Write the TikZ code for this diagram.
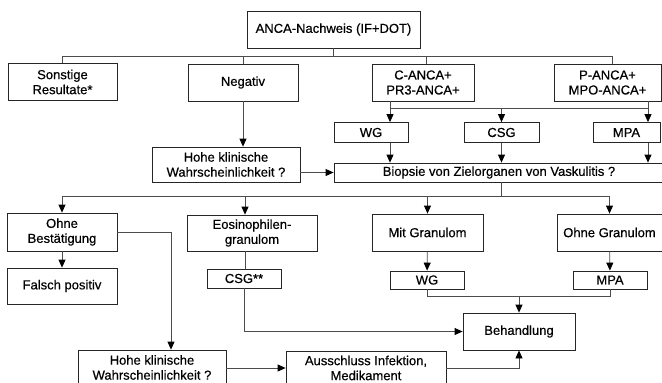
\documentclass[tikz,border=0pt]{standalone}
\usepackage{fontspec}
\setmainfont{Liberation Sans}[FakeBold=0.5]
\usetikzlibrary{arrows.meta,positioning,shapes}

\begin{document}
\begin{tikzpicture}[x=1pt,y=-1pt,
  box/.style={draw=black!85,line width=0.8pt,rectangle,inner sep=0pt,align=center,
    font=\fontsize{13}{15}\selectfont},
  line/.style={draw=black!70,line width=0.8pt},
  arr/.style={line,-{Triangle[length=8pt,width=7pt,color=black]}}]

  \clip (0,0) rectangle (662,383);

  % first row
  \node[box,minimum width=173,minimum height=37] (nachweis) at (333.5,29.5) {ANCA-Nachweis (IF+DOT)};
  \node[box,minimum width=109,minimum height=37] (sonst) at (62.5,82) {Sonstige\\Resultate*};
  \node[box,minimum width=110,minimum height=37] (neg) at (243,82.5) {Negativ};
  \node[box,minimum width=102,minimum height=37] (cplus) at (423,82.5) {C-ANCA+\\PR3-ANCA+};
  \node[box,minimum width=107,minimum height=37] (pplus) at (607.5,82.5) {P-ANCA+\\MPO-ANCA+};

  % diagnoses and biopsy
  \node[box,minimum width=74,minimum height=20] (wg1) at (371,132.5) {WG};
  \node[box,minimum width=75,minimum height=20] (csg1) at (501.5,132.5) {CSG};
  \node[box,minimum width=67,minimum height=20] (mpa1) at (626.5,132.5) {MPA};
  \node[box,minimum width=148,minimum height=35] (hohe1) at (226,164.5) {Hohe klinische\\Wahrscheinlichkeit ?};
  \node[box,minimum width=330,minimum height=19] (biopsie) at (499,172.5) {Biopsie von Zielorganen von Vaskulitis ?};

  % biopsy results
  \node[box,minimum width=110,minimum height=38] (ohnebest) at (62,232) {Ohne\\Bestätigung};
  \node[box,minimum width=130,minimum height=36] (eosino) at (252,233) {Eosinophilen-\\granulom};
  \node[box,minimum width=111,minimum height=37] (mitgran) at (427.5,232.5) {Mit Granulom};
  \node[box,minimum width=105,minimum height=37] (ohnegran) at (609.5,232.5) {Ohne Granulom};
  \node[box,minimum width=110,minimum height=36] (falsch) at (62,286) {Falsch positiv};
  \node[box,minimum width=74,minimum height=19] (csg2) at (244,278.5) {CSG**};
  \node[box,minimum width=74,minimum height=18] (wg2) at (427,280) {WG};
  \node[box,minimum width=74,minimum height=18] (mpa2) at (610,280) {MPA};

  % treatment
  \node[box,minimum width=112,minimum height=37] (behand) at (519,331.5) {Behandlung};
  \node[box,minimum width=148,minimum height=35] (hohe2) at (152,367.5) {Hohe klinische\\Wahrscheinlichkeit ?};
  \node[box,minimum width=160,minimum height=34] (ausschl) at (366,368) {Ausschluss Infektion,\\Medikament};

  % lanes for the connectors
  \coordinate (bus1) at (0,56);
  \coordinate (bus2) at (390,108);
  \coordinate (bus2r) at (648,108);
  \coordinate (bus3) at (0,196);
  \coordinate (leos) at (245,0);
  \coordinate (lbest) at (171,232);
  \coordinate (bus4) at (519,296);

  \draw[line] (nachweis.south) -- (nachweis.south |- bus1);
  \draw[line] (sonst.north) -- (sonst.north |- bus1) -- ([xshift=5]pplus.north |- bus1) -- ([xshift=5]pplus.north);
  \draw[line] (neg.north) -- (neg.north |- bus1);
  \draw[line] ([xshift=3]cplus.north) -- ([xshift=3]cplus.north |- bus1);

  \draw[line] (cplus.south -| bus2) -- (bus2) -- (bus2r) -- (pplus.south -| bus2r);
  \draw[arr] (bus2) -- (wg1.north -| bus2);
  \draw[arr] (csg1.north |- bus2) -- (csg1.north);
  \draw[arr] (bus2r) -- (mpa1.north -| bus2r);
  \draw[arr] (wg1.south -| bus2) -- (biopsie.north -| bus2);
  \draw[arr] (csg1.south) -- (biopsie.north -| csg1.south);
  \draw[arr] (mpa1.south -| bus2r) -- (biopsie.north -| bus2r);

  \draw[arr] (neg.south) -- (neg.south |- hohe1.north);
  \draw[arr] (hohe1.east |- biopsie.west) -- (biopsie.west);

  \draw[line] (csg1.south |- biopsie.south) -- (csg1.south |- bus3);
  \draw[line] (ohnebest.north |- bus3) -- (ohnegran.north |- bus3);
  \foreach \n in {ohnebest,mitgran,ohnegran}
    \draw[arr] (\n.north |- bus3) -- (\n.north);
  \draw[arr] (leos |- bus3) -- (eosino.north -| leos);

  \draw[arr] (ohnebest) -- (falsch);
  \draw[arr] (ohnebest.east) -- (lbest) -- (lbest |- hohe2.north);
  \draw[line] (eosino.south -| leos) -- (csg2.north -| leos);
  \draw[arr] (csg2.south) |- (behand.west);

  \draw[arr] (mitgran) -- (wg2);
  \draw[arr] (ohnegran) -- (mpa2);
  \draw[line] (wg2.south) -- (wg2.south |- bus4) -- (mpa2.south |- bus4) -- (mpa2.south);
  \draw[arr] (bus4) -- (behand.north);

  \draw[arr] (hohe2.east |- ausschl.west) -- (ausschl.west);
  \draw[arr] (ausschl.east) -| (behand.south);
\end{tikzpicture}
\end{document}
